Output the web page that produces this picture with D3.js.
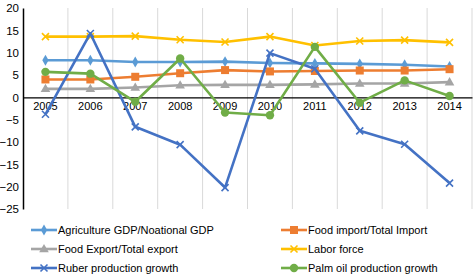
<!DOCTYPE html>
<html><head><meta charset="utf-8">
<script src="https://cdn.jsdelivr.net/npm/d3@7"></script>
<style>body{margin:0;background:#fff}svg{display:block}text{font-family:"Liberation Sans",Arial,sans-serif}</style>
</head><body>
<svg id="c" width="473" height="275"></svg>
<script>
const years = ["2005","2006","2007","2008","2009","2010","2011","2012","2013","2014"];
const yTicks = [20,15,10,5,0,-5,-10,-15,-20,-25];
const agriGDP   = [8.3,8.3,7.9,7.9,8.0,7.7,7.6,7.5,7.3,6.9];
const foodImport= [4.0,4.0,4.6,5.4,6.1,5.8,5.9,6.0,6.0,6.3];
const foodExport= [1.9,1.9,2.2,2.7,2.8,2.8,2.9,3.1,3.1,3.4];
const laborForce= [13.6,13.6,13.7,12.9,12.4,13.6,11.6,12.6,12.8,12.3];
const rubber    = [-3.8,14.3,-6.6,-10.6,-20.2,9.9,6.4,-7.5,-10.5,-19.2];
const palmOil   = [5.7,5.3,-1.0,8.7,-3.4,-4.0,11.3,-1.2,3.8,0.3];
const seriesNames = ["Agriculture GDP/Noational GDP","Food import/Total Import","Food Export/Total export","Labor force","Ruber production growth","Palm oil production growth"];

const series = [
  {name:seriesNames[0], values:agriGDP, color:"#5B9BD5", marker:"diamond"},
  {name:seriesNames[1], values:foodImport, color:"#ED7D31", marker:"square"},
  {name:seriesNames[2], values:foodExport, color:"#A5A5A5", marker:"triangle"},
  {name:seriesNames[3], values:laborForce, color:"#FFC000", marker:"x"},
  {name:seriesNames[4], values:rubber, color:"#4472C4", marker:"x"},
  {name:seriesNames[5], values:palmOil, color:"#70AD47", marker:"circle"}
];
const drawOrder = [0,1,2,3,4,5];

const svg = d3.select("#c");
const L=23, R=472, T=8, B=209;
const x = d3.scaleBand().domain(years).range([L,R]);
const y = d3.scaleLinear().domain([-25,20]).range([B,T]);

// gridlines
svg.append("g").selectAll("line").data(years).join("line")
  .attr("x1",(d,i)=>L+x.step()*(i+1)).attr("x2",(d,i)=>L+x.step()*(i+1))
  .attr("y1",T).attr("y2",B).attr("stroke","#D9D9D9").attr("stroke-width",1);

// y axis
const ya = svg.append("g").attr("transform",`translate(${L},0)`)
  .call(d3.axisLeft(y).tickValues(yTicks).tickSize(0).tickPadding(4));
ya.select(".domain").attr("stroke","#000").attr("stroke-width",1.5);
ya.selectAll("text").attr("font-size",11.5).attr("fill","#000");

// zero line + x axis labels
const xa = svg.append("g").attr("transform",`translate(0,${y(0)})`)
  .call(d3.axisBottom(x).tickSize(0).tickPadding(5));
xa.select(".domain").attr("stroke","#000").attr("stroke-width",1.2);
xa.selectAll("text").attr("font-size",11).attr("fill","#000");

function drawMarker(g, type, color, cx, cy){
  if(type==="diamond"){
    g.append("path").attr("d",d3.symbol(d3.symbolDiamond,34)()).attr("transform",`translate(${cx},${cy})`).attr("fill",color);
  } else if(type==="square"){
    g.append("rect").attr("x",cx-4).attr("y",cy-4).attr("width",8).attr("height",8).attr("fill",color);
  } else if(type==="triangle"){
    g.append("path").attr("d",d3.symbol(d3.symbolTriangle,40)()).attr("transform",`translate(${cx},${cy+0.5})`).attr("fill",color);
  } else if(type==="circle"){
    g.append("circle").attr("cx",cx).attr("cy",cy).attr("r",4.2).attr("fill",color);
  } else if(type==="x"){
    g.append("path").attr("d",`M${cx-3.5},${cy-3.5}L${cx+3.5},${cy+3.5}M${cx-3.5},${cy+3.5}L${cx+3.5},${cy-3.5}`)
      .attr("stroke",color).attr("stroke-width",1.6).attr("fill","none");
  }
}

const line = d3.line().x((d,i)=>x(years[i])+x.bandwidth()/2).y(d=>y(d));
drawOrder.forEach(k=>{
  const s=series[k];
  const g=svg.append("g");
  g.append("path").attr("d",line(s.values)).attr("fill","none").attr("stroke",s.color).attr("stroke-width",2.6).attr("stroke-linejoin","round");
  s.values.forEach((v,i)=>drawMarker(g,s.marker,s.color,x(years[i])+x.bandwidth()/2,y(v)));
});

// legend
const legPos = [[31,230],[281,230],[31,249],[281,249],[31,268],[281,268]];
series.forEach((s,i)=>{
  const [lx,ly]=legPos[i];
  const g=svg.append("g");
  g.append("line").attr("x1",lx).attr("x2",lx+26).attr("y1",ly).attr("y2",ly).attr("stroke",s.color).attr("stroke-width",2.6);
  drawMarker(g,s.marker,s.color,lx+13,ly);
  g.append("text").attr("x",lx+27).attr("y",ly+4).attr("font-size",11).attr("fill","#000").text(s.name);
});
</script>
</body></html>
